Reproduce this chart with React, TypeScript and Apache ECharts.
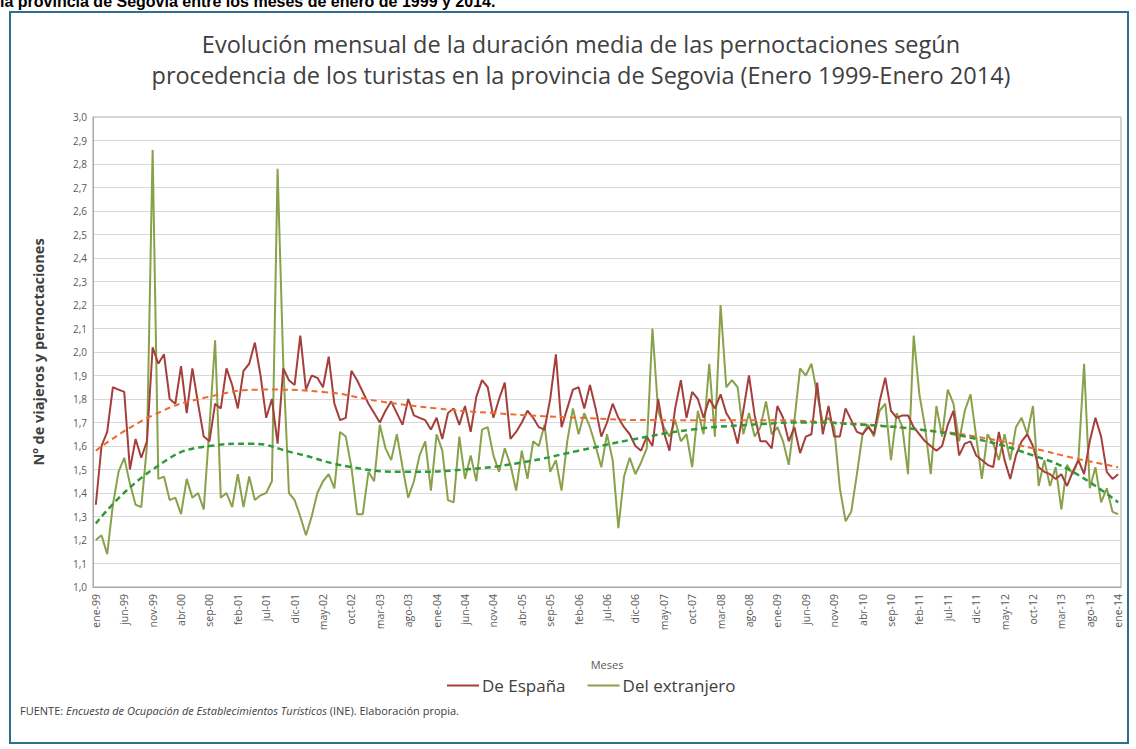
import React, { useEffect, useRef } from "react";
import * as echarts from "echarts";

// ---- Data ----
const MONTHS = ["ene", "feb", "mar", "abr", "may", "jun", "jul", "ago", "sep", "oct", "nov", "dic"];
const YEARS = ["99", "00", "01", "02", "03", "04", "05", "06", "07", "08", "09", "10", "11", "12", "13", "14"];

const CATEGORIES: string[] = [];
YEARS.forEach((y, yi) => {
  MONTHS.forEach((m, mi) => {
    if (yi === YEARS.length - 1 && mi > 0) return;
    CATEGORIES.push(`${m}-${y}`);
  });
});

// De España (monthly, Jan 1999 – Jan 2014)
const ESPANA = [
  1.35, 1.60, 1.66, 1.85, 1.84, 1.83, 1.50, 1.63, 1.55, 1.62, 2.02, 1.95, // 1999
  1.99, 1.80, 1.78, 1.94, 1.74, 1.93, 1.78, 1.64, 1.62, 1.78, 1.76, 1.93, // 2000
  1.86, 1.76, 1.92, 1.95, 2.04, 1.90, 1.72, 1.80, 1.61, 1.93, 1.88, 1.86, // 2001
  2.07, 1.84, 1.90, 1.89, 1.85, 1.98, 1.78, 1.71, 1.72, 1.92, 1.88, 1.83, // 2002
  1.78, 1.74, 1.70, 1.75, 1.79, 1.74, 1.69, 1.80, 1.73, 1.72, 1.71, 1.67, // 2003
  1.72, 1.63, 1.74, 1.76, 1.69, 1.77, 1.66, 1.81, 1.88, 1.85, 1.72, 1.80, // 2004
  1.87, 1.63, 1.66, 1.70, 1.75, 1.72, 1.68, 1.67, 1.80, 1.99, 1.68, 1.76, // 2005
  1.84, 1.85, 1.76, 1.86, 1.76, 1.64, 1.70, 1.78, 1.72, 1.68, 1.65, 1.60, // 2006
  1.58, 1.64, 1.60, 1.80, 1.66, 1.58, 1.76, 1.88, 1.72, 1.83, 1.80, 1.72, // 2007
  1.80, 1.76, 1.82, 1.74, 1.70, 1.61, 1.75, 1.90, 1.73, 1.62, 1.62, 1.59, // 2008
  1.77, 1.72, 1.62, 1.68, 1.57, 1.64, 1.65, 1.87, 1.65, 1.77, 1.64, 1.64, // 2009
  1.76, 1.71, 1.66, 1.65, 1.68, 1.65, 1.79, 1.89, 1.75, 1.72, 1.73, 1.73, // 2010
  1.68, 1.65, 1.62, 1.60, 1.58, 1.60, 1.69, 1.75, 1.56, 1.61, 1.62, 1.56, // 2011
  1.54, 1.52, 1.51, 1.66, 1.54, 1.46, 1.56, 1.62, 1.65, 1.60, 1.51, 1.49, // 2012
  1.48, 1.46, 1.48, 1.43, 1.49, 1.54, 1.48, 1.62, 1.72, 1.64, 1.49, 1.46, // 2013
  1.48, // 2014
];

// Del extranjero
const EXTRANJERO = [
  1.20, 1.22, 1.14, 1.35, 1.49, 1.55, 1.44, 1.35, 1.34, 1.60, 2.86, 1.46, // 1999
  1.47, 1.37, 1.38, 1.31, 1.46, 1.38, 1.40, 1.33, 1.68, 2.05, 1.38, 1.40, // 2000
  1.34, 1.48, 1.34, 1.47, 1.37, 1.39, 1.40, 1.45, 2.78, 1.95, 1.40, 1.37, // 2001
  1.30, 1.22, 1.30, 1.40, 1.45, 1.48, 1.42, 1.66, 1.64, 1.51, 1.31, 1.31, // 2002
  1.49, 1.45, 1.69, 1.59, 1.54, 1.65, 1.51, 1.38, 1.45, 1.56, 1.62, 1.41, // 2003
  1.65, 1.58, 1.37, 1.36, 1.64, 1.46, 1.56, 1.45, 1.67, 1.68, 1.56, 1.49, // 2004
  1.59, 1.52, 1.41, 1.58, 1.46, 1.62, 1.60, 1.69, 1.49, 1.54, 1.41, 1.62, // 2005
  1.76, 1.65, 1.74, 1.68, 1.60, 1.51, 1.65, 1.54, 1.25, 1.47, 1.55, 1.48, // 2006
  1.53, 1.59, 2.10, 1.75, 1.68, 1.64, 1.71, 1.62, 1.65, 1.51, 1.75, 1.65, // 2007
  1.95, 1.64, 2.20, 1.85, 1.88, 1.85, 1.65, 1.74, 1.64, 1.68, 1.79, 1.65, // 2008
  1.68, 1.62, 1.52, 1.71, 1.93, 1.90, 1.95, 1.82, 1.70, 1.72, 1.68, 1.42, // 2009
  1.28, 1.32, 1.48, 1.65, 1.69, 1.64, 1.75, 1.78, 1.54, 1.74, 1.68, 1.48, // 2010
  2.07, 1.82, 1.68, 1.48, 1.77, 1.64, 1.84, 1.78, 1.62, 1.75, 1.82, 1.64, // 2011
  1.46, 1.65, 1.61, 1.54, 1.65, 1.54, 1.68, 1.72, 1.65, 1.77, 1.43, 1.54, // 2012
  1.43, 1.51, 1.33, 1.52, 1.48, 1.54, 1.95, 1.42, 1.51, 1.36, 1.42, 1.32, // 2013
  1.31, // 2014
];

// Polynomial trend lines (month index, value)
const TREND_ESPANA_IDX = [0, 10, 20, 30, 40, 50, 60, 70, 85, 100, 115, 130, 145, 155, 165, 172, 180];
const TREND_ESPANA_VAL = [1.58, 1.73, 1.81, 1.84, 1.83, 1.79, 1.76, 1.74, 1.72, 1.71, 1.71, 1.70, 1.67, 1.64, 1.59, 1.55, 1.51];
const TREND_EXTR_IDX = [0, 10, 20, 27, 35, 45, 55, 65, 75, 85, 95, 105, 115, 125, 135, 145, 155, 165, 172, 180];
const TREND_EXTR_VAL = [1.27, 1.50, 1.60, 1.61, 1.57, 1.51, 1.49, 1.50, 1.53, 1.58, 1.63, 1.67, 1.69, 1.70, 1.69, 1.67, 1.63, 1.56, 1.49, 1.36];

const TITLE_LINES = [
  "Evolución mensual de la duración media de las pernoctaciones según",
  "procedencia de los turistas en la provincia de Segovia (Enero 1999-Enero 2014)",
];

const COLORS = {
  espana: "#A53F3C",
  extr: "#8AA14B",
  trendEspana: "#EE6A2E",
  trendExtr: "#2E9B3A",
  frame: "#2F6E8F",
  text: "#404040",
  axis: "#595959",
};

const FONT = "'Open Sans', Lato, sans-serif";

export default function App() {
  const ref = useRef<HTMLDivElement>(null);

  useEffect(() => {
    if (!ref.current) return;
    const chart = echarts.init(ref.current, undefined, { renderer: "svg" });
    const pair = (idx: number[], val: number[]) => idx.map((x, i) => [x, val[i]]);

    chart.setOption({
      animation: false,
      backgroundColor: "#ffffff",
      textStyle: { fontFamily: FONT },
      grid: { left: 93, right: 15, top: 117, bottom: 162, show: true, borderColor: "#A6A6A6", borderWidth: 1 },
      legend: {
        data: ["De España", "Del extranjero"],
        left: 442,
        top: 672,
        icon: "rect",
        itemWidth: 32,
        itemHeight: 2,
        itemGap: 22,
        textStyle: { fontSize: 17, color: COLORS.text, fontFamily: FONT, padding: [0, 0, 0, -2] },
      },
      xAxis: {
        type: "category",
        data: CATEGORIES,
        boundaryGap: true,
        name: "Meses",
        nameLocation: "middle",
        nameGap: 72,
        nameTextStyle: { fontSize: 11, color: COLORS.axis, fontFamily: FONT },
        axisLine: { lineStyle: { color: "#A6A6A6" } },
        axisTick: { show: false },
        axisLabel: { interval: 4, rotate: 90, fontSize: 10.5, color: COLORS.axis, margin: 7, fontFamily: FONT },
        splitLine: { show: false },
      },
      yAxis: {
        type: "value",
        min: 1,
        max: 3,
        interval: 0.1,
        name: "Nº de viajeros y pernoctaciones",
        nameLocation: "middle",
        nameGap: 47,
        nameRotate: 90,
        nameTextStyle: { fontSize: 14.5, fontWeight: "bold", color: COLORS.text, fontFamily: FONT },
        axisLine: { show: true, lineStyle: { color: "#A6A6A6" } },
        axisTick: { show: false },
        axisLabel: {
          fontSize: 10,
          color: COLORS.axis,
          margin: 6,
          fontFamily: FONT,
          formatter: (v: number) => v.toFixed(1).replace(".", ","),
        },
        splitLine: { lineStyle: { color: "#D9D9D9", width: 1 } },
      },
      series: [
        {
          name: "De España",
          type: "line",
          data: ESPANA,
          symbol: "none",
          lineStyle: { color: COLORS.espana, width: 2 },
          itemStyle: { color: COLORS.espana },
          z: 3,
        },
        {
          name: "Del extranjero",
          type: "line",
          data: EXTRANJERO,
          symbol: "none",
          lineStyle: { color: COLORS.extr, width: 2 },
          itemStyle: { color: COLORS.extr },
          z: 2,
        },
        {
          name: "Tendencia De España",
          type: "line",
          data: pair(TREND_ESPANA_IDX, TREND_ESPANA_VAL),
          smooth: true,
          symbol: "none",
          lineStyle: { color: COLORS.trendEspana, width: 2, type: [6, 4] },
          z: 4,
        },
        {
          name: "Tendencia Del extranjero",
          type: "line",
          data: pair(TREND_EXTR_IDX, TREND_EXTR_VAL),
          smooth: true,
          symbol: "none",
          lineStyle: { color: COLORS.trendExtr, width: 2.5, type: [6, 4] },
          z: 4,
        },
      ],
      graphic: [
        {
          type: "rect",
          shape: { x: 10, y: 12, width: 1118, height: 731 },
          style: { fill: "none", stroke: COLORS.frame, lineWidth: 2 },
          silent: true,
          z: -1,
        },
        {
          type: "text",
          x: 0,
          y: -7,
          style: {
            text: "la provincia de Segovia entre los meses de enero de 1999 y 2014.",
            font: "bold 16px 'Liberation Sans', sans-serif",
            fill: "#000000",
          },
        },
        {
          type: "text",
          x: 581,
          y: 28,
          style: {
            text: TITLE_LINES.join("\n"),
            font: `23.5px ${FONT}`,
            fill: COLORS.text,
            align: "center",
            lineHeight: 31,
          },
        },
        {
          type: "text",
          x: 20,
          y: 705,
          style: {
            text: "{n|FUENTE: }{i|Encuesta de Ocupación de Establecimientos Turísticos}{n| (INE). Elaboración propia.}",
            rich: {
              n: { fontSize: 11, fontFamily: FONT, fill: COLORS.text, color: COLORS.text },
              i: { fontSize: 11, fontFamily: FONT, fontStyle: "italic", fill: COLORS.text, color: COLORS.text },
            },
          },
        },
      ],
    });

    return () => chart.dispose();
  }, []);

  return (
    <div
      ref={ref}
      style={{ position: "fixed", left: 0, top: 0, width: 1136, height: 749, background: "#fff" }}
    />
  );
}
